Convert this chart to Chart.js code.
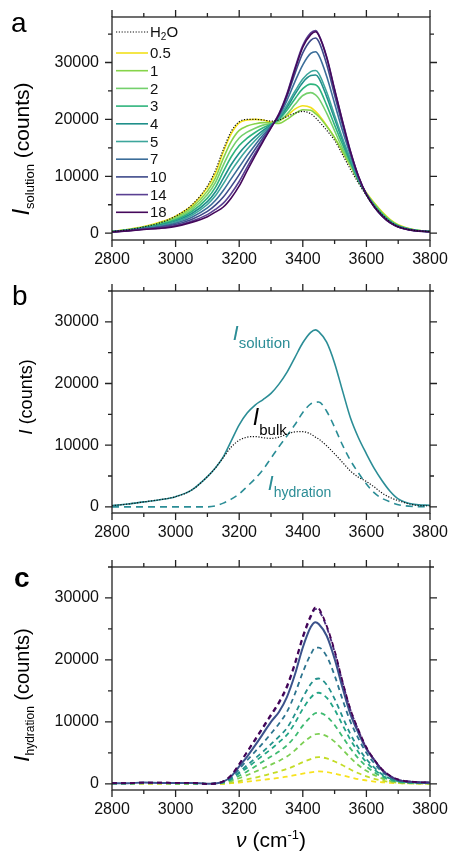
<!DOCTYPE html>
<html>
<head>
<meta charset="utf-8">
<script src="https://cdn.jsdelivr.net/npm/chart.js@4.4.1/dist/chart.umd.min.js"></script>
<style>
body { margin: 0; background: #fff; }
#wrap { position: relative; width: 449px; height: 852px; }
canvas { position: absolute; left: 0; }
</style>
</head>
<body>
<div id="wrap">
<canvas id="chartA" width="449" height="275" style="top:0px"></canvas>
<canvas id="chartB" width="449" height="285" style="top:275px"></canvas>
<canvas id="chartC" width="449" height="292" style="top:560px"></canvas>
</div>
<script>
// wavenumber grid (cm-1) shared by every curve
const nu = [2800, 2850, 2900, 2950, 3000, 3050, 3100, 3125, 3150, 3175, 3200, 3225, 3250, 3275, 3300,
  3325, 3350, 3375, 3400, 3425, 3440, 3450, 3475, 3500, 3525, 3550, 3575, 3600, 3625, 3650, 3675, 3700, 3750, 3800];

const xTicks = [2800, 3000, 3200, 3400, 3600, 3800];
const yTicks = [0, 10000, 20000, 30000];

// panel a: I_solution for pure water and each concentration
const concLabels = ['0.5', '1', '2', '3', '4', '5', '7', '10', '14', '18'];
const solH2O = [300, 600, 1100, 1800, 3000, 4900, 8300, 11000, 14700, 17900, 19600, 20000, 20000, 19900, 19700,
  19900, 20500, 21100, 21400, 21000, 20300, 19700, 18100, 16300, 13800, 11200, 8800, 6600, 4700, 3200, 2000, 1200, 500, 300];
const sol05 = [300, 650, 1150, 1900, 3000, 4800, 8000, 10500, 14300, 17500, 19400, 19900, 20000, 19900, 19500,
  19700, 20600, 21800, 22400, 22100, 21400, 20800, 18900, 16800, 14300, 11800, 9200, 7100, 5300, 3700, 2400, 1500, 600, 300];
const sol1 = [290, 620, 1090, 1770, 2780, 4450, 7390, 9680, 13140, 16140, 18070, 18830, 19230, 19440, 19380,
  19300, 20000, 21000, 21700, 21600, 21000, 20500, 18800, 16800, 14400, 11900, 9200, 7000, 5200, 3600, 2300, 1400, 600, 300];
const sol2 = [276, 590, 1030, 1650, 2570, 4100, 6780, 8870, 11970, 14790, 16740, 17760, 18460, 18990, 19260,
  19700, 20900, 22600, 24200, 24700, 24300, 23700, 21100, 18000, 14900, 12100, 9200, 6900, 5000, 3400, 2200, 1300, 550, 300];
const sol3 = [264, 560, 970, 1520, 2350, 3760, 6160, 8050, 10810, 13430, 15400, 16700, 17700, 18530, 19140,
  20000, 21600, 23600, 25400, 26200, 26100, 25600, 22500, 19000, 15600, 12400, 9300, 6900, 4900, 3300, 2100, 1300, 550, 300];
const sol4 = [252, 530, 910, 1400, 2140, 3410, 5550, 7240, 9640, 12080, 14070, 15630, 16930, 18080, 19020,
  20200, 22100, 24400, 26500, 27700, 27800, 27300, 24000, 20100, 16300, 12800, 9400, 6900, 4800, 3200, 2000, 1250, 500, 300];
const sol5 = [242, 505, 860, 1290, 1960, 3120, 5040, 6560, 8670, 10950, 12960, 14740, 16290, 17700, 18920,
  20300, 22500, 24900, 27100, 28400, 28600, 28100, 24800, 20700, 16700, 13000, 9500, 6900, 4800, 3100, 2000, 1200, 500, 280];
const sol7 = [230, 475, 800, 1165, 1740, 2770, 4430, 5740, 7510, 9590, 11630, 13670, 15520, 17240, 18800,
  20600, 23300, 26600, 29600, 31600, 31900, 31300, 27600, 22800, 18000, 13700, 9700, 6800, 4700, 3000, 1900, 1150, 480, 270];
const sol10 = [218, 445, 740, 1040, 1520, 2420, 3820, 4920, 6350, 8230, 10300, 12600, 14750, 16780, 18680,
  20800, 24000, 28000, 31700, 33900, 34300, 33700, 29700, 24300, 19000, 14100, 9900, 6800, 4600, 3000, 1850, 1100, 460, 260];
const sol14 = [207, 418, 685, 925, 1330, 2100, 3260, 4180, 5280, 6990, 9080, 11620, 14050, 16370, 18570,
  21000, 24500, 29000, 33000, 35200, 35600, 34900, 31000, 25300, 19700, 14400, 10000, 6800, 4600, 3000, 1800, 1100, 450, 250];
const sol18 = [200, 400, 650, 850, 1200, 1900, 2900, 3700, 4600, 6200, 8300, 11000, 13600, 16100, 18500,
  20900, 24300, 28700, 32700, 34900, 35400, 34800, 30900, 25200, 19600, 14300, 10000, 6800, 4600, 3000, 1800, 1100, 450, 250];

// panel b: decomposition for one concentration
const solB = [200, 450, 800, 1150, 1650, 2700, 4900, 6300, 8100, 10700, 13300, 15200, 16500, 17400, 18400,
  19900, 21800, 24200, 26600, 28300, 28700, 28400, 26700, 23300, 18800, 14400, 11200, 8600, 6200, 4200, 2500, 1300, 400, 250];
const bulkB = [200, 450, 800, 1150, 1650, 2700, 4900, 6300, 8000, 9700, 10800, 11300, 11400, 11200, 11100,
  11300, 11800, 12150, 12200, 11800, 11300, 11000, 9900, 8600, 7200, 5800, 4800, 4100, 3200, 2200, 1500, 1000, 300, 150];
const hydB = [0, 0, 0, 0, 0, 0, 0, 150, 600, 1250, 2100, 3300, 4550, 6050, 7900,
  9750, 11500, 13300, 15300, 16700, 16950, 17000, 15500, 12900, 10000, 7500, 5500, 3700, 2250, 1350, 800, 350, 50, 0];

// panel c: I_hydration for each concentration
const hyd05 = [150, 100, 50, 50, 30, 30, 0, 0, 0, 100, 200, 350, 500, 650, 800,
  950, 1150, 1400, 1650, 1850, 1950, 2000, 1900, 1650, 1350, 1050, 750, 550, 350, 250, 150, 100, 50, 0];
const hyd1 = [50, 50, 50, 50, 30, 30, 0, 0, 50, 200, 450, 700, 1000, 1300, 1650,
  2000, 2400, 2900, 3500, 4000, 4250, 4300, 4100, 3600, 3000, 2300, 1700, 1200, 800, 500, 300, 150, 50, 0];
const hyd2 = [50, 50, 80, 80, 50, 50, 0, 20, 150, 450, 900, 1400, 1950, 2500, 3100,
  3700, 4400, 5400, 6600, 7600, 8000, 8050, 7700, 6800, 5500, 4200, 3000, 2100, 1400, 850, 450, 250, 100, 50];
const hyd3 = [60, 60, 100, 100, 60, 60, 0, 30, 200, 650, 1300, 2000, 2800, 3600, 4400,
  5200, 6200, 7600, 9400, 10800, 11400, 11450, 10900, 9500, 7600, 5700, 4100, 2800, 1850, 1100, 600, 300, 150, 100];
const hyd4 = [60, 60, 120, 120, 80, 80, 0, 30, 250, 800, 1700, 2600, 3600, 4600, 5600,
  6700, 7900, 9800, 12100, 13900, 14600, 14700, 13900, 12000, 9500, 7100, 5100, 3500, 2300, 1350, 750, 400, 150, 100];
const hyd5 = [80, 80, 150, 150, 100, 100, 0, 50, 250, 900, 1900, 3000, 4100, 5200, 6400,
  7600, 9000, 11200, 13900, 16100, 16900, 17000, 16000, 13700, 10800, 8000, 5800, 4000, 2600, 1500, 850, 450, 200, 100];
const hyd7 = [80, 80, 150, 150, 100, 100, 0, 50, 300, 1100, 2400, 3800, 5200, 6600, 8100,
  9700, 11600, 14500, 18000, 20900, 22000, 22000, 20600, 17500, 13600, 10000, 7300, 5000, 3300, 1900, 1050, 550, 250, 150];
const hyd10 = [100, 100, 200, 150, 150, 150, 0, 50, 350, 1200, 2800, 4400, 6200, 8100, 10000,
  11600, 14000, 17600, 22000, 25300, 26100, 25800, 23900, 20200, 15500, 11200, 8200, 5600, 3800, 2200, 1200, 600, 300, 200];
const hyd14 = [100, 100, 200, 200, 150, 150, 0, 50, 400, 1350, 3100, 5100, 7000, 9000, 11000,
  13000, 15500, 19200, 23500, 26900, 28200, 28000, 25300, 21300, 16400, 11900, 8600, 5800, 3850, 2250, 1250, 650, 300, 200];
const hyd18 = [100, 100, 200, 200, 150, 150, 0, 50, 400, 1400, 3200, 5200, 7200, 9200, 11200,
  13200, 15800, 19500, 23800, 27200, 28500, 28300, 25500, 21500, 16500, 12000, 8700, 5900, 3900, 2300, 1300, 700, 300, 200];

// colours (viridis-like, reversed)
const colorsA = ['#f2e01a', '#86d449', '#74d06c', '#2eb47c', '#1f8f8a', '#3da69c', '#3b6d99', '#3e4a8a', '#5a4092', '#45085b'];
const colorsC = ['#f7e21f', '#c3dc26', '#7ccf53', '#3fbb72', '#22a585', '#23918c', '#2c738e', '#3b528b', '#4b2a7c', '#440154'];
const teal = '#2b8d96';

const FONT = '"Liberation Sans", Arial, sans-serif';
const f = (size, style) => (style ? style + ' ' : '') + size + 'px ' + FONT;

function pts(arr) {
  return nu.map((v, i) => ({ x: v, y: arr[i] }));
}

function drawRich(ctx, parts, x, y, align) {
  let w = 0;
  for (const p of parts) { ctx.font = p[1]; w += ctx.measureText(p[0]).width; }
  let cx = align === 'center' ? x - w / 2 : x;
  for (const p of parts) {
    ctx.font = p[1];
    ctx.fillText(p[0], cx, y + (p[2] || 0));
    cx += ctx.measureText(p[0]).width;
  }
}

// frame with outward ticks on all four sides, plus the panel texts
function makeDecor(cfg) {
  return {
    id: 'decor',
    afterDraw(chart) {
      const { ctx, chartArea: a, scales: { x, y } } = chart;
      ctx.save();
      ctx.strokeStyle = '#222';
      ctx.lineWidth = 1.3;
      ctx.setLineDash([]);
      ctx.strokeRect(a.left, a.top, a.right - a.left, a.bottom - a.top);
      ctx.beginPath();
      for (let v = x.min; v <= x.max; v += 100) {
        const px = x.getPixelForValue(v);
        const len = v % 200 === 0 ? 7 : 4;
        ctx.moveTo(px, a.bottom); ctx.lineTo(px, a.bottom + len);
        ctx.moveTo(px, a.top); ctx.lineTo(px, a.top - len);
      }
      for (let v = 0; v <= y.max; v += 5000) {
        const py = y.getPixelForValue(v);
        const len = v % 10000 === 0 ? 7 : 4;
        ctx.moveTo(a.left, py); ctx.lineTo(a.left - len, py);
        ctx.moveTo(a.right, py); ctx.lineTo(a.right + len, py);
      }
      ctx.stroke();

      ctx.fillStyle = '#000';
      ctx.textBaseline = 'alphabetic';
      ctx.textAlign = 'left';
      ctx.font = cfg.letter.font;
      ctx.fillText(cfg.letter.text, cfg.letter.x, cfg.letter.y);

      // rotated y title
      ctx.save();
      ctx.translate(cfg.ytitle.x, cfg.ytitle.y);
      ctx.rotate(-Math.PI / 2);
      drawRich(ctx, cfg.ytitle.parts, 0, 0, 'center');
      ctx.restore();

      if (cfg.xtitle) drawRich(ctx, cfg.xtitle.parts, cfg.xtitle.x, cfg.xtitle.y, 'center');

      (cfg.notes || []).forEach(n => {
        ctx.fillStyle = n.color;
        drawRich(ctx, n.parts, x.getPixelForValue(n.nu), y.getPixelForValue(n.val), 'left');
      });

      if (cfg.legend) {
        const lx = a.left + 4, ly0 = a.top + 15;
        ctx.textBaseline = 'middle';
        chart.data.datasets.forEach((ds, i) => {
          const ly = i === 0 ? ly0 : ly0 + 21 + (i - 1) * 17.7;
          ctx.strokeStyle = ds.borderColor;
          ctx.lineWidth = ds.borderWidth;
          ctx.setLineDash(ds.borderDash || []);
          ctx.beginPath();
          ctx.moveTo(lx, ly); ctx.lineTo(lx + 32, ly);
          ctx.stroke();
          ctx.fillStyle = '#111';
          const parts = ds.label === 'H2O'
            ? [['H', f(15)], ['2', f(10), 4], ['O', f(15)]]
            : [[ds.label, f(15)]];
          drawRich(ctx, parts, lx + 34, ly + 1, 'left');
        });
      }
      ctx.restore();
    }
  };
}

function makeScales(yMin, yMax, xHeight) {
  return {
    x: {
      type: 'linear', min: 2800, max: 3800,
      afterBuildTicks: s => { s.ticks = xTicks.map(v => ({ value: v })); },
      afterFit: s => { s.height = xHeight; s.paddingLeft = 0; s.paddingRight = 0; },
      ticks: { callback: v => String(v), font: { family: FONT, size: 16 }, color: '#111', padding: 10, maxRotation: 0, autoSkip: false },
      grid: { display: false, drawTicks: false }, border: { display: false }
    },
    y: {
      type: 'linear', min: yMin, max: yMax,
      afterBuildTicks: s => { s.ticks = yTicks.map(v => ({ value: v })); },
      afterFit: s => { s.width = 112; s.paddingTop = 0; s.paddingBottom = 0; },
      ticks: { callback: v => String(v), font: { family: FONT, size: 16 }, color: '#111', padding: 13 },
      grid: { display: false, drawTicks: false }, border: { display: false }
    }
  };
}

const baseOpts = (yMin, yMax, xHeight, top) => ({
  responsive: false,
  animation: false,
  devicePixelRatio: 1,
  events: [],
  layout: { padding: { top: top, right: 19, left: 0, bottom: 0 } },
  elements: { point: { radius: 0 }, line: { cubicInterpolationMode: 'monotone' } },
  plugins: { legend: { display: false }, tooltip: { enabled: false } },
  scales: makeScales(yMin, yMax, xHeight)
});

// panel a
const seriesA = [sol05, sol1, sol2, sol3, sol4, sol5, sol7, sol10, sol14, sol18];
const dsA = [{ label: 'H2O', data: pts(solH2O), borderColor: '#111', borderWidth: 1.2, borderDash: [1.2, 1.6], order: -20 }]
  .concat(seriesA.map((s, i) => ({ label: concLabels[i], data: pts(s), borderColor: colorsA[i], borderWidth: 1.6, order: -i })));

new Chart(document.getElementById('chartA'), {
  type: 'line',
  data: { datasets: dsA },
  options: baseOpts(-1200, 38000, 35, 17),
  plugins: [makeDecor({
    letter: { text: 'a', x: 11, y: 32, font: f(28) },
    ytitle: { x: 29, y: 149, parts: [['I', f(24, 'italic')], ['solution', f(13), 5], [' (counts)', f(21)]] },
    legend: true
  })]
});

// panel b
new Chart(document.getElementById('chartB'), {
  type: 'line',
  data: {
    datasets: [
      { label: 'bulk', data: pts(bulkB), borderColor: '#111', borderWidth: 1.2, borderDash: [1.2, 1.6] },
      { label: 'solution', data: pts(solB), borderColor: teal, borderWidth: 1.6 },
      { label: 'hydration', data: pts(hydB), borderColor: teal, borderWidth: 1.6, borderDash: [7, 5] }
    ]
  },
  options: baseOpts(-1000, 35000, 47, 16),
  plugins: [makeDecor({
    letter: { text: 'b', x: 12, y: 30, font: f(28) },
    ytitle: { x: 32, y: 122, parts: [['I', f(19, 'italic')], [' (counts)', f(18)]] },
    notes: [
      { nu: 3180, val: 27040, color: teal, parts: [['I', f(21, 'italic')], ['solution', f(15), 8]] },
      { nu: 3243, val: 13280, color: '#000', parts: [['I', f(23, 'italic')], ['bulk', f(15), 10]] },
      { nu: 3290, val: 2770, color: teal, parts: [['I', f(21, 'italic')], ['hydration', f(14), 7]] }
    ]
  })]
});

// panel c
const seriesC = [hyd05, hyd1, hyd2, hyd3, hyd4, hyd5, hyd7, hyd10, hyd14, hyd18];
const dsC = seriesC.map((s, i) => ({
  label: concLabels[i], data: pts(s), borderColor: colorsC[i],
  borderWidth: concLabels[i] === '10' ? 2 : 1.8,
  borderDash: concLabels[i] === '10' ? [] : [5, 4],
  order: -i
}));

new Chart(document.getElementById('chartC'), {
  type: 'line',
  data: { datasets: dsC },
  options: baseOpts(-1000, 35000, 62, 7),
  plugins: [makeDecor({
    letter: { text: 'c', x: 14, y: 27, font: f(28, 'bold') },
    ytitle: { x: 29, y: 135, parts: [['I', f(22, 'italic')], ['hydration', f(12), 5], [' (counts)', f(20)]] },
    xtitle: { x: 271, y: 287, parts: [['\u03bd', f(21, 'italic')], [' (cm', f(21)], ['-1', f(13), -8], [')', f(21)]] }
  })]
});
</script>
</body>
</html>
